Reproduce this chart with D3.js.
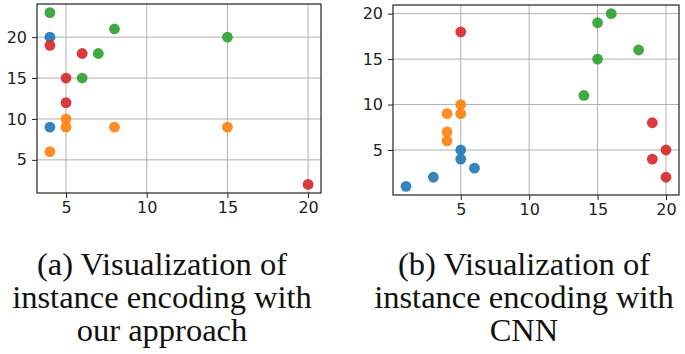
<!DOCTYPE html>
<html>
<head>
<meta charset="utf-8">
<script src="https://cdn.jsdelivr.net/npm/d3@7"></script>
<style>
  body { margin: 0; background: #fff; }
  svg { display: block; }
</style>
</head>
<body>
<div id="chart"></div>
<script>
// Instance encoding scatter plots, two panels side by side

const classColors = ["#1f77b4", "#ff7f0e", "#2ca02c", "#d62728"]; // blue, orange, green, red

// Panel (a): our approach
const aBlue   = [[4, 20], [4, 9]];
const aOrange = [[5, 10], [5, 9], [8, 9], [15, 9], [4, 6]];
const aGreen  = [[4, 23], [8, 21], [15, 20], [7, 18], [6, 15]];
const aRed    = [[4, 19], [6, 18], [5, 15], [5, 12], [20, 2]];

// Panel (b): CNN
const bBlue   = [[5, 5], [5, 4], [6, 3], [3, 2], [1, 1]];
const bOrange = [[5, 10], [4, 9], [5, 9], [4, 7], [4, 6]];
const bGreen  = [[16, 20], [15, 19], [18, 16], [15, 15], [14, 11]];
const bRed    = [[5, 18], [19, 8], [20, 5], [19, 4], [20, 2]];

const xTicks = [5, 10, 15, 20];
const aYTicks = [5, 10, 15, 20];
const bYTicks = [5, 10, 15, 20];

const captionA = ["(a) Visualization of", "instance encoding with", "our approach"];
const captionB = ["(b) Visualization of", "instance encoding with", "CNN"];

const W = 685, H = 354;
const svg = d3.select("#chart").append("svg")
  .attr("width", W).attr("height", H);

const panels = [
  { series: [aBlue, aOrange, aGreen, aRed], yTicks: aYTicks, caption: captionA,
    box: { x0: 37, x1: 321, y0: 4, y1: 193 }, capX: 162 },
  { series: [bBlue, bOrange, bGreen, bRed], yTicks: bYTicks, caption: captionB,
    box: { x0: 393, x1: 679, y0: 5, y1: 195 }, capX: 524 }
];

panels.forEach((p, pi) => {
  const all = p.series.flat();
  const [xmin, xmax] = d3.extent(all, d => d[0]);
  const [ymin, ymax] = d3.extent(all, d => d[1]);
  const xm = (xmax - xmin) * 0.05, ym = (ymax - ymin) * 0.05;

  const x = d3.scaleLinear().domain([xmin - xm, xmax + xm]).range([p.box.x0, p.box.x1]);
  const y = d3.scaleLinear().domain([ymin - ym, ymax + ym]).range([p.box.y1, p.box.y0]);

  const g = svg.append("g");

  // grid
  g.append("g").selectAll("line.gx").data(xTicks).join("line")
    .attr("x1", d => x(d)).attr("x2", d => x(d))
    .attr("y1", p.box.y0).attr("y2", p.box.y1)
    .attr("stroke", "#b0b0b0").attr("stroke-width", 1);
  g.append("g").selectAll("line.gy").data(p.yTicks).join("line")
    .attr("y1", d => y(d)).attr("y2", d => y(d))
    .attr("x1", p.box.x0).attr("x2", p.box.x1)
    .attr("stroke", "#b0b0b0").attr("stroke-width", 1);

  // points
  p.series.forEach((s, si) => {
    g.append("g").selectAll("circle").data(s).join("circle")
      .attr("cx", d => x(d[0])).attr("cy", d => y(d[1]))
      .attr("r", 5.4)
      .attr("fill", classColors[si])
      .attr("fill-opacity", 0.9);
  });

  // axes
  const xAxis = g.append("g")
    .attr("transform", `translate(0,${p.box.y1})`)
    .call(d3.axisBottom(x).tickValues(xTicks).tickSize(5).tickPadding(4));
  const yAxis = g.append("g")
    .attr("transform", `translate(${p.box.x0},0)`)
    .call(d3.axisLeft(y).tickValues(p.yTicks).tickSize(5).tickPadding(5));
  [xAxis, yAxis].forEach(a => {
    a.select(".domain").remove();
    a.selectAll("line").attr("stroke", "#222").attr("stroke-width", 1);
    a.selectAll("text")
      .style("font-family", "DejaVu Sans, sans-serif")
      .style("font-size", "16px")
      .attr("fill", "#222");
  });

  // frame
  g.append("rect")
    .attr("x", p.box.x0).attr("y", p.box.y0)
    .attr("width", p.box.x1 - p.box.x0).attr("height", p.box.y1 - p.box.y0)
    .attr("fill", "none").attr("stroke", "#222").attr("stroke-width", 1.2);

  // caption
  g.append("g").selectAll("text").data(p.caption).join("text")
    .attr("x", p.capX)
    .attr("y", (d, i) => 275 + i * 33)
    .attr("text-anchor", "middle")
    .style("font-family", "Liberation Serif, Times New Roman, serif")
    .style("font-size", "32.5px")
    .attr("fill", "#111")
    .text(d => d);
});
</script>
</body>
</html>
